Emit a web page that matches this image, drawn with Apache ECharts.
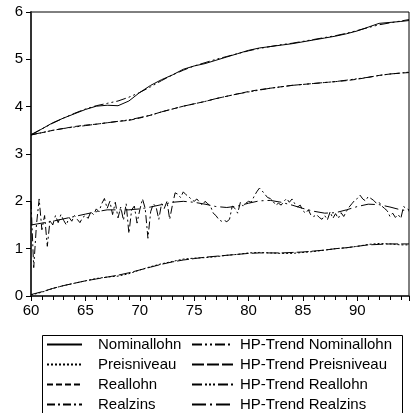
<!DOCTYPE html>
<html>
<head>
<meta charset="utf-8">
<script src="https://cdn.jsdelivr.net/npm/echarts@6/dist/echarts.min.js"></script>
<style>html,body{margin:0;padding:0;background:#fff;}#c{width:413px;height:413px;}</style>
</head>
<body>
<div id="c"></div>
<script>
// Annual observation points (year, 2-digit) and the final quarter
const years = [60,61,62,63,64,65,66,67,68,69,70,71,72,73,74,75,76,77,78,79,80,81,82,83,84,85,86,87,88,89,90,91,92,93,94,94.75];

const nominallohn = [3.40,3.53,3.66,3.76,3.85,3.94,4.01,4.03,4.02,4.12,4.30,4.45,4.57,4.67,4.79,4.86,4.91,4.98,5.05,5.12,5.19,5.24,5.27,5.30,5.33,5.37,5.41,5.45,5.49,5.54,5.60,5.68,5.76,5.78,5.80,5.82];
const hpNominallohn = [3.41,3.53,3.65,3.76,3.86,3.95,4.02,4.07,4.12,4.20,4.30,4.42,4.55,4.67,4.77,4.86,4.93,5.00,5.06,5.12,5.18,5.23,5.27,5.31,5.34,5.38,5.42,5.46,5.50,5.55,5.61,5.67,5.73,5.77,5.81,5.84];

const preisniveau = [0.02,0.08,0.16,0.22,0.27,0.32,0.37,0.40,0.42,0.47,0.55,0.62,0.68,0.73,0.78,0.80,0.81,0.83,0.86,0.88,0.91,0.92,0.91,0.90,0.90,0.92,0.94,0.97,1.00,1.02,1.05,1.09,1.11,1.10,1.08,1.08];
const hpPreisniveau = [0.03,0.09,0.16,0.22,0.27,0.32,0.36,0.40,0.44,0.49,0.55,0.61,0.67,0.72,0.76,0.79,0.82,0.84,0.86,0.88,0.90,0.91,0.91,0.91,0.92,0.93,0.95,0.97,1.00,1.02,1.05,1.08,1.09,1.10,1.10,1.10];

const reallohn = [3.40,3.45,3.50,3.54,3.58,3.61,3.63,3.66,3.69,3.71,3.76,3.82,3.89,3.95,4.01,4.06,4.11,4.17,4.22,4.27,4.32,4.36,4.39,4.42,4.45,4.47,4.49,4.51,4.53,4.55,4.58,4.62,4.66,4.69,4.71,4.72];
const hpReallohn = [3.41,3.45,3.50,3.54,3.57,3.60,3.63,3.66,3.69,3.72,3.77,3.82,3.89,3.95,4.01,4.06,4.11,4.17,4.22,4.27,4.31,4.35,4.39,4.42,4.45,4.47,4.49,4.51,4.53,4.56,4.59,4.62,4.66,4.69,4.71,4.73];

const hpRealzins = [1.50,1.54,1.58,1.63,1.68,1.73,1.78,1.82,1.82,1.82,1.84,1.88,1.93,1.98,2.00,1.98,1.94,1.89,1.87,1.90,1.96,2.01,2.02,1.98,1.92,1.85,1.79,1.75,1.76,1.82,1.89,1.94,1.93,1.88,1.82,1.80];

// Realzins: quarterly values, one row of four per year 1960..1994
const realzinsYears = [60,61,62,63,64,65,66,67,68,69,70,71,72,73,74,75,76,77,78,79,80,81,82,83,84,85,86,87,88,89,90,91,92,93,94];
const realzinsQuarterly = [
  [2.00,0.60,1.50,2.05],
  [1.40,1.70,1.05,1.60],
  [1.50,1.70,1.55,1.72],
  [1.60,1.50,1.66,1.58],
  [1.70,1.62,1.55,1.66],
  [1.70,1.64,1.78,1.72],
  [1.84,1.78,1.95,2.06],
  [1.85,2.00,1.72,1.98],
  [1.65,1.88,1.60,1.95],
  [1.32,1.82,1.90,1.54],
  [1.82,2.05,1.85,1.22],
  [1.78,1.95,1.88,1.62],
  [1.95,1.85,2.00,1.62],
  [1.92,2.18,2.15,2.08],
  [2.20,2.14,2.10,2.04],
  [2.00,2.05,1.98,1.92],
  [2.00,1.95,1.90,1.75],
  [1.70,1.62,1.58,1.60],
  [1.57,1.62,1.90,1.85],
  [1.75,1.98,1.90,1.96],
  [2.00,1.98,2.10,2.20],
  [2.28,2.22,2.15,2.08],
  [2.06,2.00,1.92,1.96],
  [1.92,2.00,2.06,1.98],
  [2.05,1.95,1.88,1.92],
  [1.80,1.75,1.82,1.70],
  [1.68,1.72,1.66,1.62],
  [1.70,1.61,1.78,1.64],
  [1.74,1.64,1.76,1.68],
  [1.79,1.88,1.95,2.02],
  [2.06,2.13,2.05,2.01],
  [2.10,2.06,2.02,1.96],
  [1.98,1.90,1.85,1.80],
  [1.68,1.75,1.66,1.72],
  [1.64,1.89,1.85,1.82]
];

const xTicks = [60,65,70,75,80,85,90];
const yTicks = [0,1,2,3,4,5,6];

const legendLeft = ['Nominallohn','Preisniveau','Reallohn','Realzins'];
const legendRight = ['HP-Trend Nominallohn','HP-Trend Preisniveau','HP-Trend Reallohn','HP-Trend Realzins'];

function pairs(xs, ys){ return xs.map((x,i)=>[x, ys[i]]); }
const realzinsData = [];
realzinsYears.forEach((y,i)=>{ realzinsQuarterly[i].forEach((v,q)=>{ realzinsData.push([y + q/4, v]); }); });

const FONT = 'Liberation Sans, Arial, sans-serif';
function line(name, data, dash, width){
  return {
    name: name, type: 'line', data: data, symbol: 'none', showSymbol: false,
    animation: false, silent: true,
    lineStyle: {color: '#000', width: width || 1, type: dash},
    itemStyle: {color: '#000'}
  };
}

const chart = echarts.init(document.getElementById('c'), null, {renderer: 'canvas'});
chart.setOption({
  animation: false,
  backgroundColor: '#fff',
  grid: {left: 31, right: 4, top: 12, bottom: 117, show: true, borderColor: '#000', borderWidth: 1, containLabel: false},
  xAxis: {
    type: 'value', min: xTicks[0], max: 94.75, interval: 5,
    axisLine: {show: true, lineStyle: {color: '#222', width: 1.5}},
    axisTick: {show: true, length: 5, lineStyle: {color: '#000'}},
    minorTick: {show: true, splitNumber: 5, length: 4, lineStyle: {color: '#000'}},
    splitLine: {show: false},
    axisLabel: {color: '#000', fontFamily: FONT, fontSize: 15, margin: 7, showMaxLabel: false,
      formatter: v => xTicks.indexOf(v) >= 0 ? String(v) : ''}
  },
  yAxis: {
    type: 'value', min: yTicks[0], max: yTicks[yTicks.length-1], interval: 1,
    axisLine: {show: true, lineStyle: {color: '#333', width: 2}},
    axisTick: {show: true, length: 5, lineStyle: {color: '#000'}},
    splitLine: {show: false},
    axisLabel: {color: '#000', fontFamily: FONT, fontSize: 15, margin: 8}
  },
  legend: [
    {type: 'plain', data: legendLeft, orient: 'vertical', left: 46, top: 337, width: 140, height: 120, padding: 0,
     itemWidth: 35, itemHeight: 12, itemGap: 5, selectedMode: false,
     itemStyle: {opacity: 0},
     textStyle: {color: '#000', fontFamily: FONT, fontSize: 15, padding: [0,0,0,11]}},
    {type: 'plain', data: legendRight, orient: 'vertical', left: 191, top: 337, width: 210, height: 120, padding: 0,
     itemWidth: 41, itemHeight: 12, itemGap: 5, selectedMode: false,
     itemStyle: {opacity: 0},
     textStyle: {color: '#000', fontFamily: FONT, fontSize: 15, padding: [0,0,0,2]}}
  ],
  graphic: [{type: 'rect', left: 40, top: 333, shape: {width: 360, height: 100},
    style: {fill: 'none', stroke: '#000', lineWidth: 1}, silent: true}],
  series: [
    line('Nominallohn', pairs(years, nominallohn), 'solid'),
    line('Preisniveau', pairs(years, preisniveau), [2,2]),
    line('Reallohn', pairs(years, reallohn), [6,3]),
    line('Realzins', realzinsData, [8,3,2,3]),
    line('HP-Trend Nominallohn', pairs(years, hpNominallohn), [10,3,2,3,2,3]),
    line('HP-Trend Preisniveau', pairs(years, hpPreisniveau), [12,3]),
    line('HP-Trend Reallohn', pairs(years, hpReallohn), [10,3,2,2,2,2,2,3]),
    line('HP-Trend Realzins', pairs(years, hpRealzins), [14,4,2,4])
  ]
});
</script>
</body>
</html>
